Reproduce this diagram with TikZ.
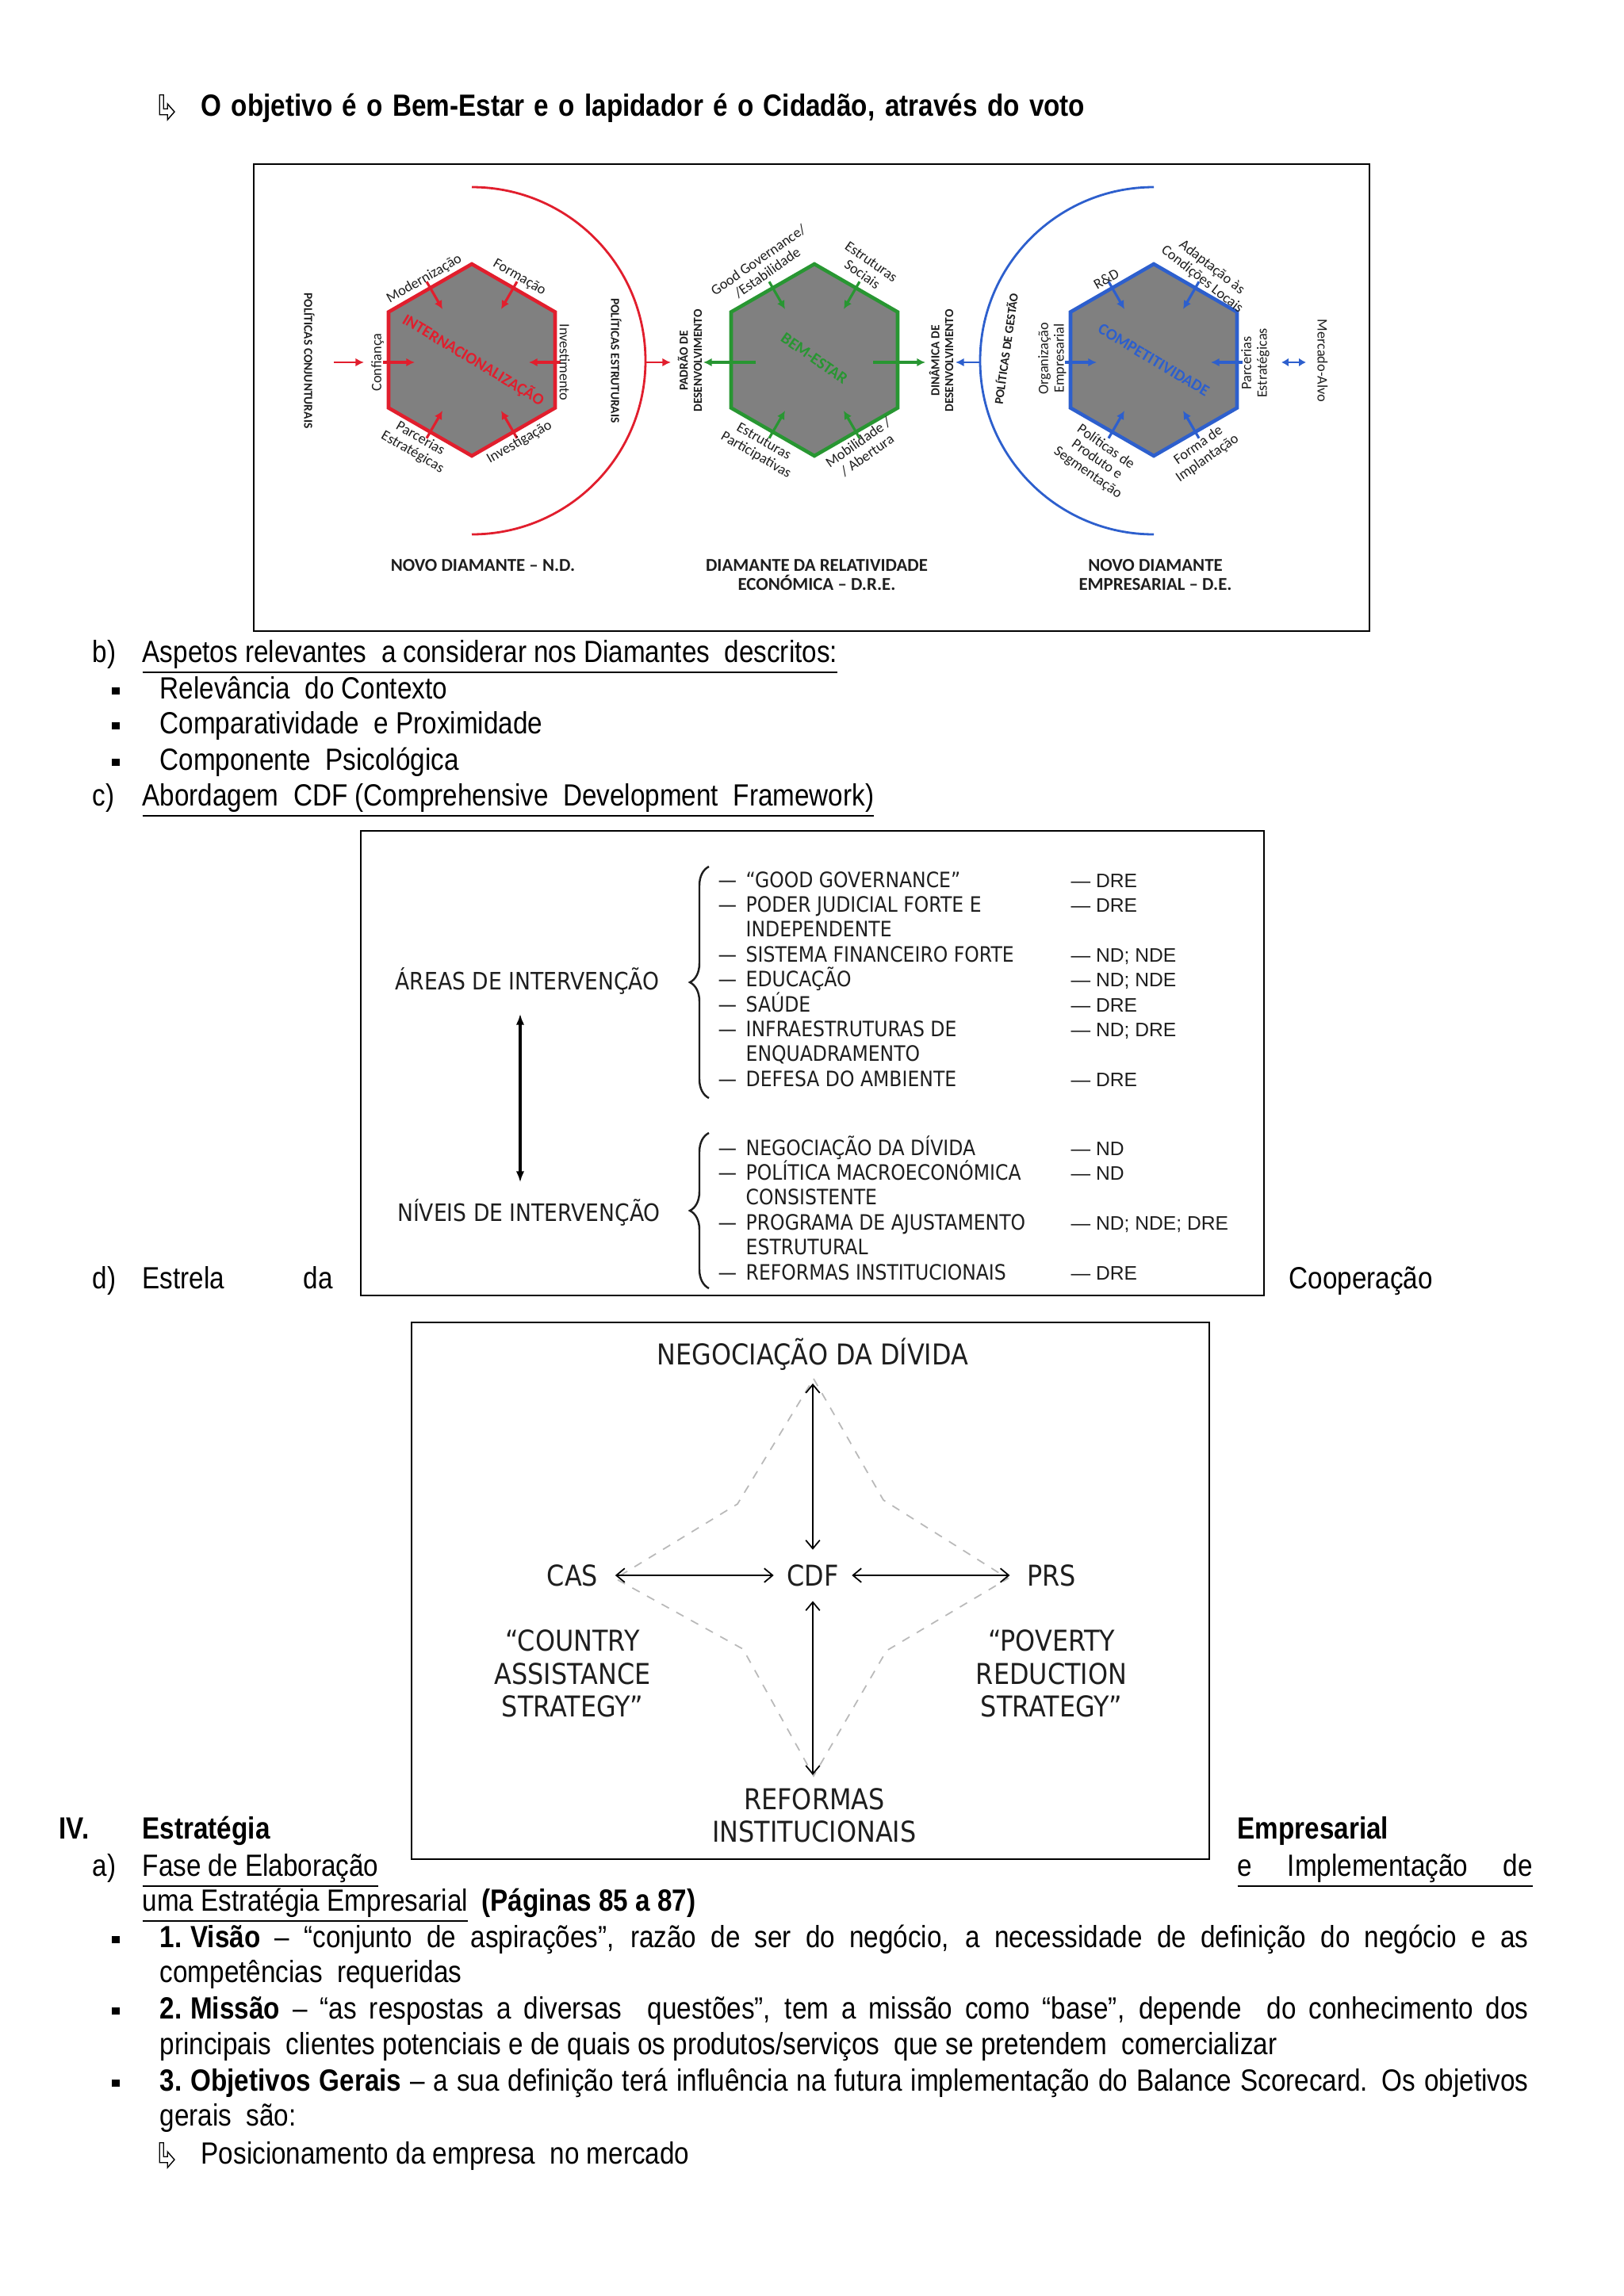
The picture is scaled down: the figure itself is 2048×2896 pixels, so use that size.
\documentclass[tikz,border=0pt]{standalone}
\usepackage{fontspec}
\setmainfont{Liberation Sans}[FakeStretch=0.86]
\newfontfamily\diafont{Carlito}
\newfontfamily\cdffont{DejaVu Sans}[FakeStretch=0.88]
\newfontfamily\codefont{Liberation Sans}
\usetikzlibrary{arrows.meta, positioning, decorations.pathreplacing}
\definecolor{ndred}{RGB}{225,30,45}
\definecolor{dregreen}{RGB}{40,150,50}
\definecolor{deblue}{RGB}{45,95,205}
\definecolor{hexgray}{RGB}{128,128,128}
\definecolor{inkgray}{RGB}{30,30,30}
\definecolor{stargray}{RGB}{185,185,185}
\newcommand{\bodysize}{\fontsize{11pt}{12.8pt}\selectfont}
\newcommand{\jline}[1]{\makebox[17.25cm][s]{#1}}
\tikzset{
  hookarr/.pic={
    \draw[line width=0.4pt, fill=white, scale=1.25] (-3,-13) -- (1,-13) -- (1,1) -- (5,1)
      -- (5,-4) -- (12,4) -- (5,12) -- (5,7) -- (-3,7) -- cycle;
  },
}

\begin{document}
\begin{tikzpicture}[x=0.01cm, y=-0.01cm, font=\bodysize,
    bodytxt/.style={anchor=base west, inner sep=0pt},
    bulletsq/.style={fill, minimum size=0.09cm, inner sep=0pt},
    hexlbl/.style={font=\diafont\fontsize{5.2pt}{5.6pt}\selectfont, text=inkgray, align=center, inner sep=0pt},
    hexcap/.style={font=\diafont\bfseries\fontsize{4.4pt}{5pt}\selectfont, text=inkgray, align=center, inner sep=0pt},
    hextitle/.style={font=\diafont\bfseries\fontsize{5.8pt}{6pt}\selectfont, inner sep=0pt},
    diacap/.style={font=\diafont\bfseries\fontsize{6.5pt}{6.9pt}\selectfont, text=inkgray, align=center, anchor=north, inner sep=0pt},
    inarrow/.style={-{Latex[length=3pt, width=3pt]}, line width=0.9pt},
    cdfhead/.style={font=\cdffont\fontsize{8.6pt}{10pt}\selectfont, text=inkgray, inner sep=0pt},
    cdfitem/.style={font=\cdffont\fontsize{7.6pt}{8.9pt}\selectfont, text=inkgray, anchor=base west, inner sep=0pt},
    cdfcode/.style={font=\codefont\fontsize{7pt}{8pt}\selectfont, text=inkgray, anchor=base west, inner sep=0pt},
    starlbl/.style={font=\cdffont\fontsize{10.3pt}{11.8pt}\selectfont, text=inkgray, align=center, inner sep=0.06cm},
    dblarrow/.style={{Straight Barb[length=3pt, width=5pt]}-{Straight Barb[length=3pt, width=5pt]}, line width=0.5pt},
    starline/.style={stargray, dashed, line width=0.5pt},
  ]
  \useasboundingbox (0,0) rectangle (2048,2896);

  % ---------- heading line ----------
  \pic at (205,136) {hookarr};
  \node[bodytxt, font=\bodysize\bfseries] (objline) at (253,146)
    {\makebox[11.14cm][s]{O objetivo é o Bem-Estar e o lapidador é o Cidadão, através do voto}};

  % ---------- the three diamonds ----------
  \draw[line width=0.8pt] (320,207) rectangle (1727,796);
  \foreach \cx/\col/\nm in {595/ndred/nd, 1027/dregreen/dre, 1455/deblue/de} {
    \coordinate (\nm) at (\cx,454);
    \draw[\col, line width=1.3pt, fill=hexgray]
      (\cx,333) -- ({\cx+105},393.5) -- ({\cx+105},514.5) -- (\cx,575)
      -- ({\cx-105},514.5) -- ({\cx-105},393.5) -- cycle;
    % inward arrows on the slanted sides
    \foreach \a in {60,120,240,300} {
      \coordinate (\nm-o\a) at ({\cx+114*cos(\a)},{454-114*sin(\a)});
      \coordinate (\nm-i\a) at ({\cx+74*cos(\a)},{454-74*sin(\a)});
      \draw[inarrow, \col] (\nm-o\a) -- (\nm-i\a);
    }
  }
  % side arrows: inward for N.D. and D.E., outward for D.R.E.
  \foreach \cx/\col/\nm in {595/ndred/nd, 1455/deblue/de} {
    \foreach \a in {0,180} {
      \coordinate (\nm-o\a) at ({\cx+112*cos(\a)},457);
      \coordinate (\nm-i\a) at ({\cx+72*cos(\a)},457);
      \draw[inarrow, \col] (\nm-o\a) -- (\nm-i\a);
    }
  }
  \foreach \a in {0,180} {
    \coordinate (dre-i\a) at ({1027+74*cos(\a)},457);
    \coordinate (dre-o\a) at ({1027+140*cos(\a)},457);
    \draw[inarrow, dregreen] (dre-i\a) -- (dre-o\a);
  }
  % outer arcs
  \draw[ndred, line width=0.8pt] (595,236) arc[start angle=-90, end angle=90, radius=219];
  \draw[deblue, line width=0.8pt] (1455,236) arc[start angle=-90, end angle=-270, radius=219];
  \coordinate (ndarc) at (814,457);
  \coordinate (ndtip) at (846,457);
  \coordinate (dearc) at (1237,457);
  \coordinate (detip) at (1205,457);
  \coordinate (conjl) at (421,457);
  \coordinate (conjr) at (459,457);
  \coordinate (mktl) at (1616,457);
  \coordinate (mktr) at (1647,457);
  \draw[inarrow, ndred, line width=0.8pt] (ndarc) -- (ndtip);
  \draw[inarrow, deblue, line width=0.8pt] (dearc) -- (detip);
  \draw[inarrow, ndred, line width=0.8pt] (conjl) -- (conjr);
  \draw[deblue, line width=0.8pt, {Latex[length=2.5pt, width=3pt]}-{Latex[length=2.5pt, width=3pt]}] (mktl) -- (mktr);
  % labels round the hexagons
  \foreach \x/\y/\r/\txt [count=\n] in {
      535/352/30/Modernização, 655/350/-30/Formação, 476/457/90/Confiança,
      712/457/-90/Investimento, 525/562/-30/{Parcerias\\Estratégicas},
      655/558/30/Investigação,
      962/336/35/{Good Governance/\\/Estabilidade}, 1093/338/-35/{Estruturas\\Sociais},
      958/566/-30/{Estruturas\\Participativas}, 1088/566/35/{Mobilidade /\\/ Abertura},
      1327/452/90/{Organização\\Empresarial}, 1395/352/30/R\&D,
      1522/345/-38/{Adaptação às\\Condições Locais}, 1583/458/90/{Parcerias\\Estratégicas},
      1668/455/-90/Mercado-Alvo, 1383/580/-35/{Políticas de\\Produto e\\Segmentação},
      1517/570/35/{Forma de\\Implantação}} {
    \node[hexlbl, rotate=\r] (hl\n) at (\x,\y) {\txt};
  }
  \foreach \x/\y/\r/\txt [count=\n] in {
      390/455/-90/POLÍTICAS CONJUNTURAIS, 777/455/-90/POLÍTICAS ESTRUTURAIS,
      870/455/90/{PADRÃO DE\\DESENVOLVIMENTO}, 1187/455/90/{DINÂMICA DE\\DESENVOLVIMENTO},
      1268/440/82/POLÍTICAS DE GESTÃO} {
    \node[hexcap, rotate=\r] (hc\n) at (\x,\y) {\txt};
  }
  \node[hextitle, ndred, rotate=-31] (ndtitle) at (597,454) {INTERNACIONALIZAÇÃO};
  \node[hextitle, dregreen, rotate=-35] (dretitle) at (1027,452) {BEM-ESTAR};
  \node[hextitle, deblue, rotate=-31] (detitle) at (1455,454) {COMPETITIVIDADE};
  \node[diacap] (ndcap) at (609,705) {NOVO DIAMANTE – N.D.};
  \node[diacap] (drecap) at (1030,705) {DIAMANTE DA RELATIVIDADE\\ECONÓMICA – D.R.E.};
  \node[diacap] (decap) at (1457,705) {NOVO DIAMANTE\\EMPRESARIAL – D.E.};

  % ---------- b) and c) ----------
  \node[bodytxt] (lb) at (116,835) {b)};
  \node[bodytxt] (aspetos) at (179,835)
    {\underline{Aspetos relevantes\ \ a considerar nos Diamantes\ \ descritos:}};
  \foreach \y/\txt [count=\n] in {881/{Relevância\ \ do Contexto},
      925/{Comparatividade\ \ e Proximidade}, 971/{Componente\ \ Psicológica}} {
    \node[bulletsq] (bq\n) at (146,\y-10) {};
    \node[bodytxt] (bt\n) at (201,\y) {\txt};
  }
  \node[bodytxt] (lc) at (116,1016) {c)};
  \node[bodytxt] (cdfline) at (179,1016)
    {\underline{Abordagem\ \ CDF (Comprehensive\ \ Development\ \ Framework)}};

  % ---------- CDF areas / levels ----------
  \draw[line width=0.8pt] (455,1048) rectangle (1594,1634);
  \node[cdfhead] (areas) at (665,1237) {ÁREAS DE INTERVENÇÃO};
  \node[cdfhead] (niveis) at (667,1529) {NÍVEIS DE INTERVENÇÃO};
  \draw[{Latex[length=4pt]}-{Latex[length=4pt]}, line width=0.9pt,
    shorten <=0.24cm, shorten >=0.2cm]
    ([xshift=-0.09cm]areas.south) -- ([xshift=-0.09cm]areas.south |- niveis.north);
  \draw[decorate, decoration={brace, amplitude=0.24cm}, line width=0.7pt, inkgray]
    (894,1385) -- (894,1093);
  \draw[decorate, decoration={brace, amplitude=0.24cm}, line width=0.7pt, inkgray]
    (894,1625) -- (894,1429);
  \foreach \r/\txt in {0/{“GOOD GOVERNANCE”}, 1/{PODER JUDICIAL FORTE E}, 2/INDEPENDENTE,
      3/{SISTEMA FINANCEIRO FORTE}, 4/EDUCAÇÃO, 5/SAÚDE, 6/{INFRAESTRUTURAS DE},
      7/ENQUADRAMENTO, 8/{DEFESA DO AMBIENTE}} {
    \node[cdfitem] (a\r) at (940,{1119+31.4*\r}) {\txt};
  }
  \foreach \r/\cod in {0/DRE, 1/DRE, 3/{ND; NDE}, 4/{ND; NDE}, 5/DRE, 6/{ND; DRE}, 8/DRE} {
    \node[cdfitem] (ad\r) at (905,{1119+31.4*\r}) {—};
    \node[cdfcode] (ac\r) at (1350,{1119+31.4*\r}) {— \cod};
  }
  \foreach \r/\txt in {0/{NEGOCIAÇÃO DA DÍVIDA}, 1/{POLÍTICA MACROECONÓMICA}, 2/CONSISTENTE,
      3/{PROGRAMA DE AJUSTAMENTO}, 4/ESTRUTURAL, 5/{REFORMAS INSTITUCIONAIS}} {
    \node[cdfitem] (n\r) at (940,{1457+31.4*\r}) {\txt};
  }
  \foreach \r/\cod in {0/ND, 1/ND, 3/{ND; NDE; DRE}, 5/DRE} {
    \node[cdfitem] (nd\r) at (905,{1457+31.4*\r}) {—};
    \node[cdfcode] (nc\r) at (1350,{1457+31.4*\r}) {— \cod};
  }

  % ---------- d) star ----------
  \node[bodytxt] (ld) at (116,1625) {d)};
  \node[bodytxt] (estrela) at (179,1625) {Estrela};
  \node[bodytxt] (da) at (382,1625) {da};
  \node[bodytxt] (coop) at (1625,1625) {Cooperação};
  \draw[line width=0.8pt] (519,1668) rectangle (1525,2345);
  \foreach \n/\x/\y in {1/1026/1739, 2/1114/1892, 3/1271/1991, 4/1118/2082,
      5/1026/2240, 6/937/2080, 7/776/1991, 8/930/1897} {
    \coordinate (st\n) at (\x,\y);
  }
  \draw[starline] (st1) -- (st2) -- (st3) -- (st4) -- (st5) -- (st6) -- (st7) -- (st8) -- cycle;
  \node[starlbl] (neg) at (1025,1708) {NEGOCIAÇÃO DA DÍVIDA};
  \node[starlbl] (cas) at (722,1987) {CAS};
  \node[starlbl] (cdf) at (1025,1987) {CDF};
  \node[starlbl] (prs) at (1326,1987) {PRS};
  \node[starlbl] (casfull) at (722,2111) {“COUNTRY\\ASSISTANCE\\STRATEGY”};
  \node[starlbl] (prsfull) at (1326,2111) {“POVERTY\\REDUCTION\\STRATEGY”};
  \node[starlbl] (ref) at (1027,2290) {REFORMAS\\INSTITUCIONAIS};
  \draw[dblarrow, shorten <=0.1cm, shorten >=0.12cm] (neg.south) -- (neg.south |- cdf.north);
  \draw[dblarrow, shorten <=0.15cm, shorten >=0.1cm] (cas.east) -- (cdf.west);
  \draw[dblarrow, shorten <=0.1cm, shorten >=0.15cm] (cdf.east) -- (prs.west);
  \draw[dblarrow, shorten <=0.12cm, shorten >=0.1cm] (cdf.south) -- (cdf.south |- ref.north);

  % ---------- IV. ----------
  \node[bodytxt] (liv) at (74,2319) {\textbf{IV.}};
  \node[bodytxt] (estr) at (179,2319) {\textbf{Estratégia}};
  \node[bodytxt] (empr) at (1560,2319) {\textbf{Empresarial}};
  \node[bodytxt] (la) at (116,2366) {a)};
  \node[bodytxt] (fase) at (179,2366) {\underline{Fase de Elaboração}};
  \node[bodytxt] (impl) at (1560,2366) {\underline{\makebox[3.72cm][s]{e Implementação de}}};
  \node[bodytxt] (uma) at (179,2410)
    {\underline{uma Estratégia Empresarial}\hspace{0.45em}\textbf{(Páginas 85 a 87)}};
  \foreach \y [count=\n] in {2456,2546,2637} {
    \node[bulletsq] (bb\n) at (146,\y-10) {};
  }
  \node[bodytxt] (vis1) at (201,2456) {\jline{\textbf{1.\hspace{0.28em}Visão} – “conjunto de aspirações”, razão de ser do negócio, a necessidade de definição do negócio e as}};
  \node[bodytxt] (vis2) at (201,2500) {competências\ \ requeridas};
  \node[bodytxt] (mis1) at (201,2546) {\jline{\textbf{2.\hspace{0.28em}Missão} – “as respostas a diversas\ \ questões”, tem a missão como “base”, depende\ \ do conhecimento dos}};
  \node[bodytxt] (mis2) at (201,2591) {principais\ \ clientes potenciais e de quais os produtos/serviços\ \ que se pretendem\ \ comercializar};
  \node[bodytxt] (obj1) at (201,2637) {\jline{\textbf{3.\hspace{0.28em}Objetivos\hspace{0.28em}Gerais} – a sua definição terá influência na futura implementação do Balance Scorecard. Os objetivos}};
  \node[bodytxt] (obj2) at (201,2681) {gerais\ \ são:};
  \pic at (205,2719) {hookarr};
  \node[bodytxt] (posic) at (253,2729) {Posicionamento da empresa\ \ no mercado};
\end{tikzpicture}
\end{document}
